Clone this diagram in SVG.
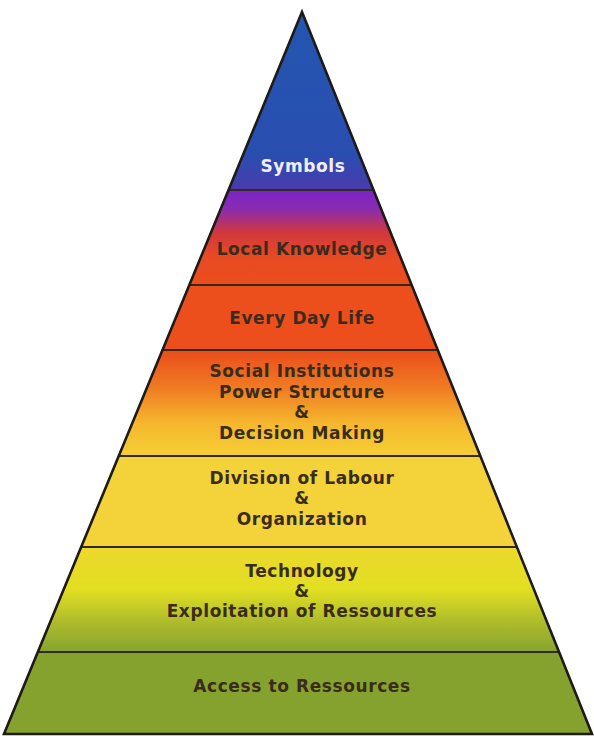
<svg xmlns="http://www.w3.org/2000/svg" width="594" height="736" viewBox="0 0 594 736">
<defs>
<linearGradient id="gSym" x1="0" y1="0" x2="0" y2="1">
<stop offset="0" stop-color="#2456b0"/>
<stop offset="0.8" stop-color="#2a4eb0"/>
<stop offset="1" stop-color="#4a3aac"/>
</linearGradient>
<linearGradient id="gLoc" x1="0" y1="0" x2="0" y2="1">
<stop offset="0" stop-color="#7a24c8"/>
<stop offset="0.2" stop-color="#8a2cb0"/>
<stop offset="0.45" stop-color="#d0383c"/>
<stop offset="0.7" stop-color="#e84a24"/>
<stop offset="1" stop-color="#ec4e1c"/>
</linearGradient>
<linearGradient id="gSoc" x1="0" y1="0" x2="0" y2="1">
<stop offset="0" stop-color="#ea4c1c"/>
<stop offset="0.35" stop-color="#f07a22"/>
<stop offset="0.7" stop-color="#f5b82e"/>
<stop offset="1" stop-color="#f5cf34"/>
</linearGradient>
<linearGradient id="gTec" x1="0" y1="0" x2="0" y2="1">
<stop offset="0" stop-color="#ecd82c"/>
<stop offset="0.4" stop-color="#e2df22"/>
<stop offset="0.75" stop-color="#a8b82c"/>
<stop offset="1" stop-color="#88a430"/>
</linearGradient>
</defs>
<style>
.band{stroke:none}
.sep{stroke:#33291f;stroke-width:2.2;fill:none}
.t{font-family:"DejaVu Sans","Verdana",sans-serif;font-weight:bold;font-size:17px;letter-spacing:0.6px;fill:#3a2c1c;text-anchor:middle}
.w{fill:#eef0ff}
</style>
<g id="symbols">
<polygon class="band" points="302,12 373.5,190 228.5,190" fill="url(#gSym)"/>
<text class="t w" x="303" y="172">Symbols</text>
</g>
<g id="local-knowledge">
<polygon class="band" points="228.5,190 373.5,190 411.7,285 189.3,285" fill="url(#gLoc)"/>
<text class="t" x="302" y="255">Local Knowledge</text>
</g>
<g id="every-day-life">
<polygon class="band" points="189.3,285 411.7,285 437.8,350 162.5,350" fill="#ec4e1c"/>
<text class="t" x="302" y="324">Every Day Life</text>
</g>
<g id="social-institutions">
<polygon class="band" points="162.5,350 437.8,350 480.3,456 118.7,456" fill="url(#gSoc)"/>
<text class="t" x="302" y="377">Social Institutions</text>
<text class="t" x="302" y="398">Power Structure</text>
<text class="t" x="302" y="418">&amp;</text>
<text class="t" x="302" y="439">Decision Making</text>
</g>
<g id="division-of-labour">
<polygon class="band" points="118.7,456 480.3,456 516.9,547 81.2,547" fill="#f3d23a"/>
<text class="t" x="302" y="484">Division of Labour</text>
<text class="t" x="302" y="504">&amp;</text>
<text class="t" x="302" y="525">Organization</text>
</g>
<g id="technology">
<polygon class="band" points="81.2,547 516.9,547 559.1,652 37.8,652" fill="url(#gTec)"/>
<text class="t" x="302" y="577">Technology</text>
<text class="t" x="302" y="597">&amp;</text>
<text class="t" x="302" y="617">Exploitation of Ressources</text>
</g>
<g id="access-to-ressources">
<polygon class="band" points="37.8,652 559.1,652 592,734 4,734" fill="#86a22e"/>
<text class="t" x="302" y="692">Access to Ressources</text>
</g>
<g id="connectors">
<line class="sep" x1="228.5" y1="190" x2="373.5" y2="190"/>
<line class="sep" x1="189.3" y1="285" x2="411.7" y2="285"/>
<line class="sep" x1="162.5" y1="350" x2="437.8" y2="350"/>
<line class="sep" x1="118.7" y1="456" x2="480.3" y2="456"/>
<line class="sep" x1="81.2" y1="547" x2="516.9" y2="547"/>
<line class="sep" x1="37.8" y1="652" x2="559.1" y2="652"/>
<polygon points="302,12 592,734 4,734" fill="none" stroke="#1e1a16" stroke-width="2.6" stroke-linejoin="miter"/>
</g>
</svg>
